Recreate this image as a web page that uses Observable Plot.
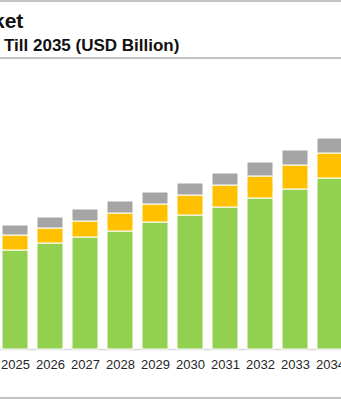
<!DOCTYPE html>
<html>
<head>
<meta charset="utf-8">
<script src="https://cdn.jsdelivr.net/npm/d3@7"></script>
<script src="https://cdn.jsdelivr.net/npm/@observablehq/plot@0.6"></script>
<style>
  html, body { margin: 0; padding: 0; background: #fff; }
  #wrap { position: relative; width: 341px; height: 400px; overflow: hidden; font-family: "Liberation Sans", Arial, sans-serif; }
  .hline { position: absolute; left: 0; width: 341px; height: 2px; background: #c4c4c4; }
  #title { position: absolute; left: -7px; top: 10px; font-size: 21px; line-height: 21px; font-weight: bold; color: #111; white-space: nowrap; }
  #subtitle { position: absolute; left: 4px; top: 36.6px; font-size: 17px; line-height: 17px; font-weight: bold; color: #111; white-space: nowrap; }
  #chart { position: absolute; left: 0; top: 60px; }
</style>
</head>
<body>
<div id="wrap">
  <div class="hline" style="top:0px"></div>
  <div id="title">ket</div>
  <div id="subtitle">Till 2035 (USD Billion)</div>
  <div class="hline" style="top:57px"></div>
  <div id="chart"></div>
  <div class="hline" style="top:397px"></div>
</div>
<script>
const years = ["2025","2026","2027","2028","2029","2030","2031","2032","2033","2034"];
const seriesNames = ["Segment 1","Segment 2","Segment 3"];
const segment1 = [9.9, 10.6, 11.2, 11.8, 12.7, 13.4, 14.2, 15.1, 16.0, 17.1];
const segment2 = [1.5, 1.5, 1.6, 1.8, 1.8, 2.0, 2.2, 2.2, 2.4, 2.5];
const segment3 = [1.0, 1.1, 1.2, 1.2, 1.2, 1.2, 1.2, 1.4, 1.5, 1.5];
const colors = ["#92d050", "#ffc000", "#a5a5a5"];

const seriesValues = [segment1, segment2, segment3];
const data = [];
years.forEach((yr, i) => {
  seriesValues.forEach((vals, s) => {
    data.push({year: yr, series: seriesNames[s], value: vals[i]});
  });
});

const chart = Plot.plot({
  width: 341,
  height: 336,
  marginTop: 0,
  marginBottom: 47,
  marginLeft: 0,
  marginRight: 0,
  style: {fontFamily: "Liberation Sans, Arial, sans-serif", background: "transparent"},
  x: {type: "band", domain: years, range: [-5.25, 349.75], paddingInner: 0.25, paddingOuter: 0.125, axis: null, label: null},
  y: {domain: [0, 28.9], axis: null},
  color: {domain: seriesNames, range: colors},
  marks: [
    Plot.ruleY([0], {stroke: "#d9d9d9", strokeWidth: 1.5}),
    Plot.barY(data, {x: "year", y: "value", fill: "series", stroke: "white", strokeWidth: 1}),
    Plot.axisX({tickSize: 0, tickPadding: 10, fontSize: 13, fill: "#262626", label: null})
  ]
});
document.getElementById("chart").appendChild(chart);
</script>
</body>
</html>
